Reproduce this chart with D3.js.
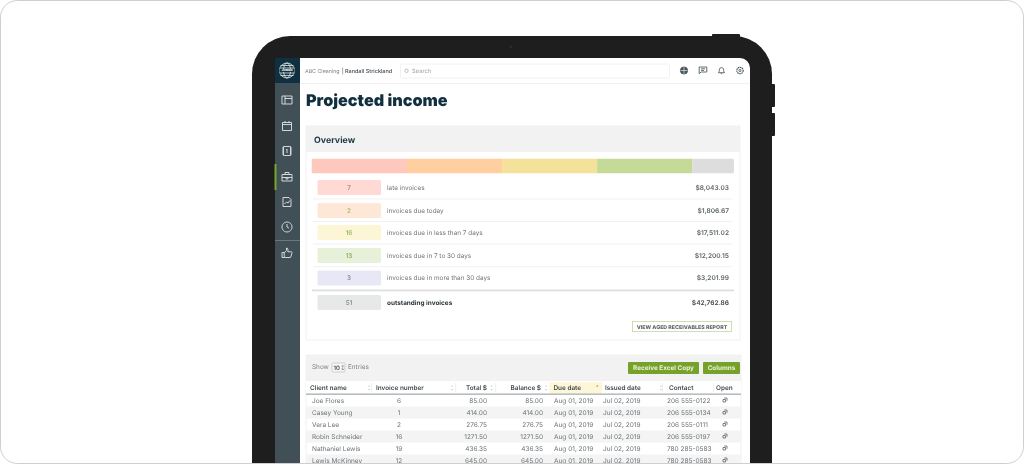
<!DOCTYPE html>
<html>
<head>
<meta charset="utf-8">
<script src="https://cdn.jsdelivr.net/npm/d3@7"></script>
<style>
html, body { margin: 0; padding: 0; background: #fff; }
svg { display: block; filter: blur(0.4px); }
text { font-family: Inter, "Noto Sans", sans-serif; text-rendering: geometricPrecision; opacity: 0.99; }
</style>
</head>
<body>
<script>
// overview data
const statusLabels = ["late invoices", "invoices due today", "invoices due in less than 7 days",
  "invoices due in 7 to 30 days", "invoices due in more than 30 days", "outstanding invoices"];
const statusCounts = [7, 2, 16, 13, 3, 51];
const statusAmounts = ["$8,043.03", "$1,806.67", "$17,511.02", "$12,200.15", "$3,201.99", "$42,762.86"];
const barShares = [22.6, 22.5, 22.5, 22.5, 9.9];

// table data
const columnNames = ["Client name", "Invoice number", "Total $", "Balance $", "Due date", "Issued date", "Contact", "Open"];
const clients = ["Joe Flores", "Casey Young", "Vera Lee", "Robin Schneider", "Nathaniel Lewis", "Lewis McKinney"];
const invoiceNumbers = [6, 1, 2, 16, 19, 12];
const totals = [85.00, 414.00, 276.75, 1271.50, 436.35, 645.00];
const balances = [85.00, 414.00, 276.75, 1271.50, 436.35, 645.00];
const dueDates = ["Aug 01, 2019", "Aug 01, 2019", "Aug 01, 2019", "Aug 01, 2019", "Aug 01, 2019", "Aug 01, 2019"];
const issuedDates = ["Jul 02, 2019", "Jul 02, 2019", "Jul 02, 2019", "Jul 02, 2019", "Jul 02, 2019", "Jul 02, 2019"];
const contacts = ["206 555-0122", "206 555-0134", "206 555-0111", "206 555-0197", "780 285-0583", "780 285-0583"];

const width = 1024;
const height = 464;
const barColors = ["#ffc8bd", "#ffcf9f", "#f5e29a", "#c5da96", "#dcdddc"];
const chipColors = ["#ffd9d4", "#ffe7d8", "#fdf6d6", "#e7f0d8", "#e8e7f5", "#e7e8e8"];
const chipText = ["#b57a72", "#a3b565", "#93b050", "#8aa85a", "#85858f", "#7d8284"];
const dark = "#0f2e3d";
const grey = "#6f7679";
const green = "#76a22b";

const svg = d3.select("body").append("svg")
    .attr("width", width)
    .attr("height", height);

function rect(p, x, y, w, h, fill, rx) {
  return p.append("rect").attr("x", x).attr("y", y).attr("width", w).attr("height", h)
    .attr("fill", fill).attr("rx", rx || 0);
}
function label(p, x, y, str, size, fill, weight, anchor) {
  return p.append("text").attr("x", x).attr("y", y).attr("dy", "0.35em")
    .attr("font-size", size).attr("fill", fill).attr("font-weight", weight || 400)
    .attr("text-anchor", anchor || "start").text(str);
}

// tablet body
rect(svg, 712, 34, 28, 6, "#1e1e1e", 1);
rect(svg, 770, 84, 5, 23, "#1e1e1e", 1);
rect(svg, 770, 113, 5, 23, "#1e1e1e", 1);
svg.append("path").attr("fill", "#1e1e1e")
  .attr("d", "M252,464V74a38,38 0 0 1 38,-38H734a38,38 0 0 1 38,38V464Z");
svg.append("circle").attr("cx", 511).attr("cy", 47).attr("r", 1.6).attr("fill", "#2c2c2c");

// screen
svg.append("path").attr("fill", "#fff")
  .attr("d", "M275,464V58H740a10,10 0 0 1 10,10V464Z");
rect(svg, 275, 83, 25, 381, "#414f57");
rect(svg, 275, 58, 25, 25, "#0f3040");
rect(svg, 274.5, 164, 2, 26, "#7aa52c");
rect(svg, 275, 240, 25, 1, "#6c777d");

// logo
const logo = svg.append("g").attr("transform", "translate(287,70.5)")
  .attr("fill", "none").attr("stroke", "#e4e8ea").attr("stroke-width", 0.8);
logo.append("circle").attr("r", 7.5);
logo.append("ellipse").attr("rx", 3.5).attr("ry", 7.5);
[-5, -2.5, 2.5, 5].forEach(d => logo.append("line").attr("x1", -6.5).attr("x2", 6.5).attr("y1", d).attr("y2", d));
rect(logo, -7.5, -1.4, 15, 2.8, "#0f3040").attr("stroke", "none");
label(logo, 0, 0, "JOBBER", 2.8, "#fff", 800, "middle").attr("stroke", "none");

// sidebar icons
const iconY = d3.scaleOrdinal(["layout", "calendar", "invoice", "work", "chart", "clock", "like"],
  [100, 126, 151, 177, 202, 227, 253]);
const iconPaths = {
  layout: "M-5,-4H5V4H-5ZM-2,-4V4M-2,-1.5H5",
  calendar: "M-4.5,-3.5H4.5V4.5H-4.5ZM-4.5,-1.5H4.5M-2,-5V-3M2,-5V-3",
  invoice: "M-3.5,-4.5H3.5V4.5H-3.5ZM-5,-3H-3.5M-5,-1H-3.5M-5,1H-3.5M-5,3H-3.5M3.5,-3H5M3.5,-1H5M3.5,1H5M3.5,3H5M0,-2V2M-0.8,-1.4L0,-2",
  work: "M-5,-2.5H5V4H-5ZM-2,-2.5V-4.5H2V-2.5M-5,0.5H5M-1,0.5V2H1V0.5",
  chart: "M-4,-4.5H2L4,-2.5V4.5H-4ZM-2.5,2L-0.5,0L1,1L2.8,-1.5",
  clock: "M0,-5A5,5 0 1 1 -0.01,-5ZM0,-3V0L2,1.2",
  like: "M-5,-0.5H-2.8V4.5H-5ZM-2.8,0L-0.5,-2.5V-5C1,-5 1.2,-3.5 0.8,-1.2H4.5C5.2,-1.2 5.2,0 4.8,0.5L3.8,4C3.6,4.5 3.4,4.5 3,4.5H-2.8"
};
iconY.domain().forEach(name => {
  svg.append("path").attr("d", iconPaths[name])
    .attr("transform", `translate(287,${iconY(name)})`)
    .attr("fill", "none").attr("stroke", "#e1e5e7").attr("stroke-width", 0.9);
});

// top bar
rect(svg, 300, 83, 450, 0.8, "#eeeeee");
label(svg, 305, 71, "ABC Cleaning", 5.3, "#7c8285");
rect(svg, 342.5, 67.5, 0.6, 7, "#777");
label(svg, 345, 71, "Randall Strickland", 5.5, "#3f4a50", 500);
svg.append("rect").attr("x", 400.5).attr("y", 64).attr("width", 269).attr("height", 14)
  .attr("fill", "#fff").attr("stroke", "#efefef").attr("stroke-width", 0.8).attr("rx", 1);
svg.append("circle").attr("cx", 406.5).attr("cy", 70.8).attr("r", 1.7).attr("fill", "none").attr("stroke", "#888").attr("stroke-width", 0.5);
label(svg, 412, 71, "Search", 5.8, "#9a9fa2");

// top right icons
const topIcons = svg.append("g").attr("fill", "none").attr("stroke", "#3f4b52").attr("stroke-width", 0.8);
const globe = topIcons.append("g").attr("transform", "translate(684,70.5)");
globe.append("circle").attr("r", 3.6).attr("fill", "#4a565d");
globe.append("path").attr("d", "M-3.4,0H3.4M0,-3.4V3.4").attr("stroke", "#fff").attr("stroke-width", 0.6);
topIcons.append("path").attr("transform", "translate(703,70)")
  .attr("d", "M-3.8,-3H3.8V2H-1.8L-3.8,3.6ZM-2,-1.2H2M-2,0.4H1");
topIcons.append("path").attr("transform", "translate(721.5,70.5)")
  .attr("d", "M-3,2.2C-2,1 -2.2,-0.5 -2,-1.5C-1.6,-3.4 1.6,-3.4 2,-1.5C2.2,-0.5 2,1 3,2.2ZM-0.7,3.2H0.7");
topIcons.append("circle").attr("cx", 740).attr("cy", 70.5).attr("r", 3.2).attr("stroke-width", 1.1).attr("stroke-dasharray", "1.5 0.6");
topIcons.append("circle").attr("cx", 740).attr("cy", 70.5).attr("r", 1.1);

// title
label(svg, 306, 100, "Projected income", 16.2, dark, 900);

// overview card
svg.append("rect").attr("x", 306).attr("y", 126).attr("width", 434).attr("height", 214)
  .attr("fill", "#fff").attr("stroke", "#eeeeee").attr("stroke-width", 0.8);
rect(svg, 306, 126, 434, 26, "#f1f2f1");
label(svg, 314, 140, "Overview", 8.8, "#1c3644", 700);

// stacked bar
const stacked = d3.stack().keys(barShares.map((d, i) => i))([barShares]);
const barX = d3.scaleLinear().domain([0, d3.sum(barShares)]).range([311.5, 734]);
svg.append("clipPath").attr("id", "barClip")
  .append("rect").attr("x", 311.5).attr("y", 158.5).attr("width", 422.5).attr("height", 15).attr("rx", 2);
svg.append("g").attr("clip-path", "url(#barClip)")
  .selectAll("rect").data(stacked).join("rect")
  .attr("x", d => barX(d[0][0]))
  .attr("width", d => barX(d[0][1]) - barX(d[0][0]))
  .attr("y", 158.5).attr("height", 15)
  .attr("fill", (d, i) => barColors[i]);

// status rows
const rowY = d3.scaleOrdinal(statusLabels, [187.5, 210.5, 232.5, 255.5, 278, 302.5]);
const rows = svg.append("g").selectAll("g").data(statusLabels).join("g");
rows.append("rect").attr("x", 317.5).attr("y", d => rowY(d) - 7.5)
  .attr("width", 63.5).attr("height", 15).attr("rx", 1.5)
  .attr("fill", (d, i) => chipColors[i]);
rows.append("text").attr("x", 349).attr("y", d => rowY(d)).attr("dy", "0.35em")
  .attr("text-anchor", "middle").attr("font-size", 6.4).attr("font-weight", 500)
  .attr("fill", (d, i) => chipText[i]).text((d, i) => statusCounts[i]);
rows.append("text").attr("x", 387).attr("y", d => rowY(d)).attr("dy", "0.35em")
  .attr("font-size", 6.4)
  .attr("font-weight", (d, i) => i === 5 ? 700 : 400)
  .attr("fill", (d, i) => i === 5 ? "#2a3338" : grey).text(d => d);
rows.append("text").attr("x", 729).attr("y", d => rowY(d)).attr("dy", "0.35em")
  .attr("text-anchor", "end").attr("font-size", 6.6).attr("font-weight", 600)
  .attr("fill", (d, i) => i === 5 ? "#3c4448" : "#5c6468").text((d, i) => statusAmounts[i]);
statusLabels.slice(0, 4).forEach((d, i) => {
  rect(svg, 313, (rowY(d) + rowY(statusLabels[i + 1])) / 2 - 0.4, 419, 0.8, "#eeeeee");
});
rect(svg, 312, 289.5, 422, 1.8, "#dddedd");

// report button
svg.append("rect").attr("x", 632.5).attr("y", 321.5).attr("width", 99).attr("height", 10)
  .attr("fill", "#fff").attr("stroke", "#ccd9ab").attr("stroke-width", 0.9);
label(svg, 682, 326.7, "VIEW AGED RECEIVABLES REPORT", 5.3, "#5e666a", 800, "middle");

// table card
svg.append("rect").attr("x", 306).attr("y", 355).attr("width", 435).attr("height", 120)
  .attr("fill", "#fff").attr("stroke", "#eeeeee").attr("stroke-width", 0.8);
rect(svg, 306, 355, 435, 26, "#f1f2f1");
label(svg, 312, 367, "Show", 6.4, "#7d8386");
svg.append("rect").attr("x", 332).attr("y", 363).attr("width", 13).attr("height", 9).attr("rx", 1)
  .attr("fill", "#f6f6f6").attr("stroke", "#b5b9ba").attr("stroke-width", 0.6);
label(svg, 333.5, 367.6, "10", 6, "#30373b", 500);
label(svg, 341, 367.5, "↕", 4.5, "#555");
label(svg, 348, 367, "Entries", 6.4, "#7d8386");
rect(svg, 628, 362, 71, 12, green, 1);
label(svg, 663.5, 368, "Receive Excel Copy", 6.4, "#eaf2d8", 700, "middle");
rect(svg, 703, 362, 37, 12, green, 1);
label(svg, 721.5, 368, "Columns", 6.4, "#eaf2d8", 700, "middle");

// table header
const headerX = d3.scaleOrdinal(columnNames, [310, 376, 487, 541, 553.5, 605, 669, 716]);
const headerAnchor = d3.scaleOrdinal(columnNames, ["start", "start", "end", "end", "start", "start", "start", "start"]);
rect(svg, 306, 381, 435, 13, "#ffffff");
rect(svg, 549.5, 382, 52.5, 11.5, "#fdf6d9");
svg.append("g").selectAll("text").data(columnNames).join("text")
  .attr("x", d => headerX(d)).attr("y", 387.5).attr("dy", "0.35em")
  .attr("text-anchor", d => headerAnchor(d))
  .attr("font-size", 6.4).attr("font-weight", 600).attr("fill", "#40484c").text(d => d);
[371.5, 455.5, 495.5, 662, 713].forEach(x => rect(svg, x, 383, 0.6, 9.5, "#e4e5e5"));
[369, 452, 491.5, 546, 661].forEach(x => {
  svg.append("path").attr("d", `M${x - 1},386.5L${x},385L${x + 1},386.5ZM${x - 1},389L${x},390.5L${x + 1},389Z`).attr("fill", "#c6c9ca");
});
svg.append("path").attr("d", "M596,386.5L597.3,385L598.6,386.5Z").attr("fill", "#8aa83f");
rect(svg, 306, 393.5, 435, 1.3, "#a9adaf");

// table rows
const rowIndex = clients.map((d, i) => i);
const tableY = d3.scaleBand().domain(rowIndex).range([394.5, 466.5]);
const body = svg.append("g").selectAll("g").data(rowIndex).join("g");
body.filter(i => i % 2 === 1).append("rect")
  .attr("x", 306).attr("width", 435)
  .attr("y", i => tableY(i)).attr("height", tableY.bandwidth()).attr("fill", "#f3f4f3");
const cell = (x, anchor, get) => body.append("text")
  .attr("x", x).attr("y", i => tableY(i) + tableY.bandwidth() / 2).attr("dy", "0.35em")
  .attr("text-anchor", anchor).attr("font-size", 6.5).attr("fill", "#6b7276").text(get);
cell(312, "start", i => clients[i]);
cell(399, "middle", i => invoiceNumbers[i]);
cell(487, "end", i => d3.format(".2f")(totals[i]));
cell(543, "end", i => d3.format(".2f")(balances[i]));
cell(554, "start", i => dueDates[i]);
cell(603, "start", i => issuedDates[i]);
cell(667, "start", i => contacts[i]);
body.append("path")
  .attr("transform", i => `translate(725,${tableY(i) + tableY.bandwidth() / 2 - 0.5})`)
  .attr("d", "M-2,-0.5H0.5V2H-2ZM-0.8,-2H2V0.8")
  .attr("fill", "none").attr("stroke", "#5d6569").attr("stroke-width", 0.8);

// outer frame
svg.append("rect").attr("x", 0.5).attr("y", 0.5).attr("width", width - 1).attr("height", height - 1)
  .attr("rx", 17).attr("fill", "none").attr("stroke", "#cfcfcf");
</script>
</body>
</html>
